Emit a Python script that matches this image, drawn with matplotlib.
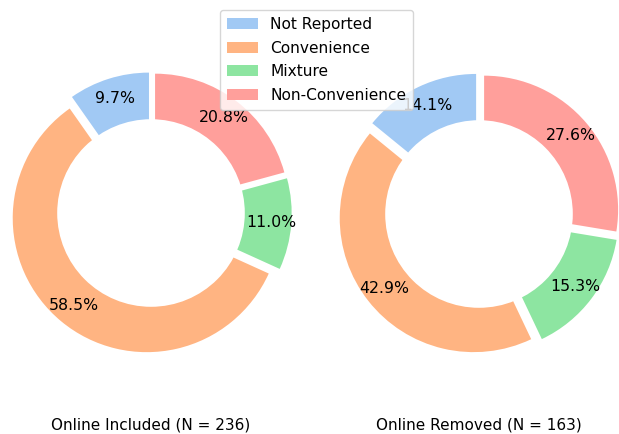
import matplotlib
matplotlib.use("Agg")
import matplotlib.pyplot as plt
from matplotlib.patches import Patch, Circle

categories = ["Not Reported", "Convenience", "Mixture", "Non-Convenience"]
included_counts = [23, 138, 26, 49]
removed_counts = [23, 70, 25, 45]
titles = ["Online Included (N = 236)", "Online Removed (N = 163)"]
colors = ["#a1c9f4", "#ffb482", "#8de5a1", "#ff9f9b"]

W, H = 619, 434
fig = plt.figure(figsize=(W / 100, H / 100), dpi=100)

u = 134.0   # pixels per data unit
S = 300.0   # axes side in pixels
centers = [(151, 221), (479, 220)]
datasets = [included_counts, removed_counts]

for (cx, cy), counts, title in zip(centers, datasets, titles):
    ax = fig.add_axes([(cx - S / 2) / W, (cy - S / 2) / H, S / W, S / H])
    ax.pie(counts, colors=colors, startangle=90, counterclock=True,
           explode=[0.05] * len(counts), autopct="%1.1f%%", pctdistance=0.85,
           textprops={"fontsize": 11.3, "color": "black"})
    ax.add_artist(Circle((0, 0), 0.70, fc="white"))
    lim = (S / 2) / u
    ax.set_xlim(-lim, lim)
    ax.set_ylim(-lim, lim)
    ax.set_aspect("equal", adjustable="box")
    ax.set_xlabel(title, fontsize=11)
    ax.xaxis.set_label_coords(0.5, (17 - (cy - S / 2)) / S)

handles = [Patch(facecolor=c, edgecolor="none") for c in colors]
fig.legend(handles, categories, loc="upper left",
           bbox_to_anchor=(220 / W, 1 - 10 / H), borderaxespad=0,
           fontsize=11.1, labelspacing=0.56, borderpad=0.45)

fig.savefig("out.png", dpi=100)
